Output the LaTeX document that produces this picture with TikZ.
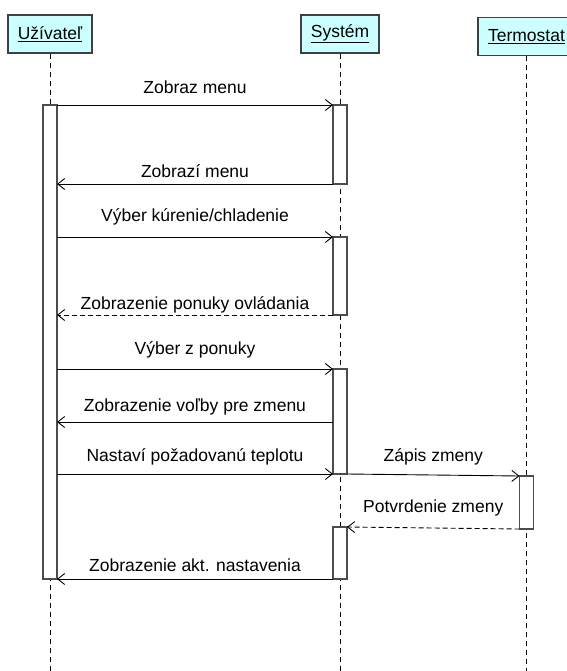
\documentclass[tikz,border=0pt]{standalone}
\usepackage{fontspec}
\setmainfont{Liberation Sans}
\usetikzlibrary{arrows.meta}

\begin{document}
\begin{tikzpicture}[x=1pt,y=-1pt,
    font=\fontsize{17.5}{20}\selectfont,
    actor/.style={rectangle,draw=black!75,line width=1.2pt,fill={rgb,255:red,204;green,255;blue,255},minimum height=38pt,inner sep=0pt},
    lifeline/.style={line width=0.9pt,dash pattern=on 5pt off 4pt},
    act/.style={rectangle,draw=black!70,line width=1.2pt,fill=white,minimum width=14pt,inner sep=0pt,outer sep=0pt},
    msg/.style={line width=0.9pt,-{Straight Barb[length=7pt,width=11pt,line width=0.9pt]}},
    reply/.style={msg,dash pattern=on 5pt off 3pt}]
    \useasboundingbox (0,0) rectangle (566,671);

    % objects
    \node [actor,minimum width=84pt] (user) at (50,34) {\underline{Užívateľ}};
    \node [actor,minimum width=78pt] (sys) at (340,34) {\underline{Systém}};
    \node [actor,minimum width=97pt] (term) at (526.5,36.5) {\underline{Termostat}};
    \coordinate (uEnd) at (50,671);
    \coordinate (sEnd) at (340,671);
    \coordinate (tEnd) at (526.5,671);

    \draw [lifeline] (user) -- (uEnd);
    \draw [lifeline] (sys) -- (sEnd);
    \draw [lifeline] (term) -- (tEnd);

    % activations
    \node [act,minimum height=474pt] (actU) at (50,342) {};
    \node [act,minimum height=79pt] (actS1) at (340,144.5) {};
    \node [act,minimum height=78pt] (actS2) at (340,276) {};
    \node [act,minimum height=105pt] (actS3) at (340,421.5) {};
    \node [act,minimum height=53pt] (actT) at (526.5,502.5) {};
    \node [act,minimum height=52pt] (actS4) at (340,553) {};
    \coordinate (m6) at (0,422);

    % messages
    \draw [msg] (actU.north east) -- node[midway,yshift=18pt] {Zobraz menu} (actS1.north west);
    \draw [msg] (actS1.south west) -- node[midway,yshift=13pt] {Zobrazí menu} (actU.east |- actS1.south west);
    \draw [msg] (actU.east |- actS2.north west) -- node[midway,yshift=20pt] {Výber kúrenie/chladenie} (actS2.north west);
    \draw [reply] (actS2.south west) -- node[midway,yshift=10pt] {Zobrazenie ponuky ovládania} (actU.east |- actS2.south west);
    \draw [msg] (actU.east |- actS3.north west) -- node[midway,yshift=19pt] {Výber z ponuky} (actS3.north west);
    \draw [msg] (actS3.west |- m6) -- node[midway,yshift=15pt] {Zobrazenie voľby pre zmenu} (actU.east |- m6);
    \draw [msg] (actU.east |- actS3.south west) -- node[midway,yshift=17pt] {Nastaví požadovanú teplotu} (actS3.south west);
    \draw [msg] (actS3.south east) -- node[midway,yshift=18pt] {Zápis zmeny} (actT.north west);
    \draw [reply] (actT.south west) -- node[midway,yshift=20pt] {Potvrdenie zmeny} (actS4.north east);
    \draw [msg] (actS4.south west) -- node[midway,yshift=14pt] {Zobrazenie akt. nastavenia} (actU.south east);
\end{tikzpicture}
\end{document}
